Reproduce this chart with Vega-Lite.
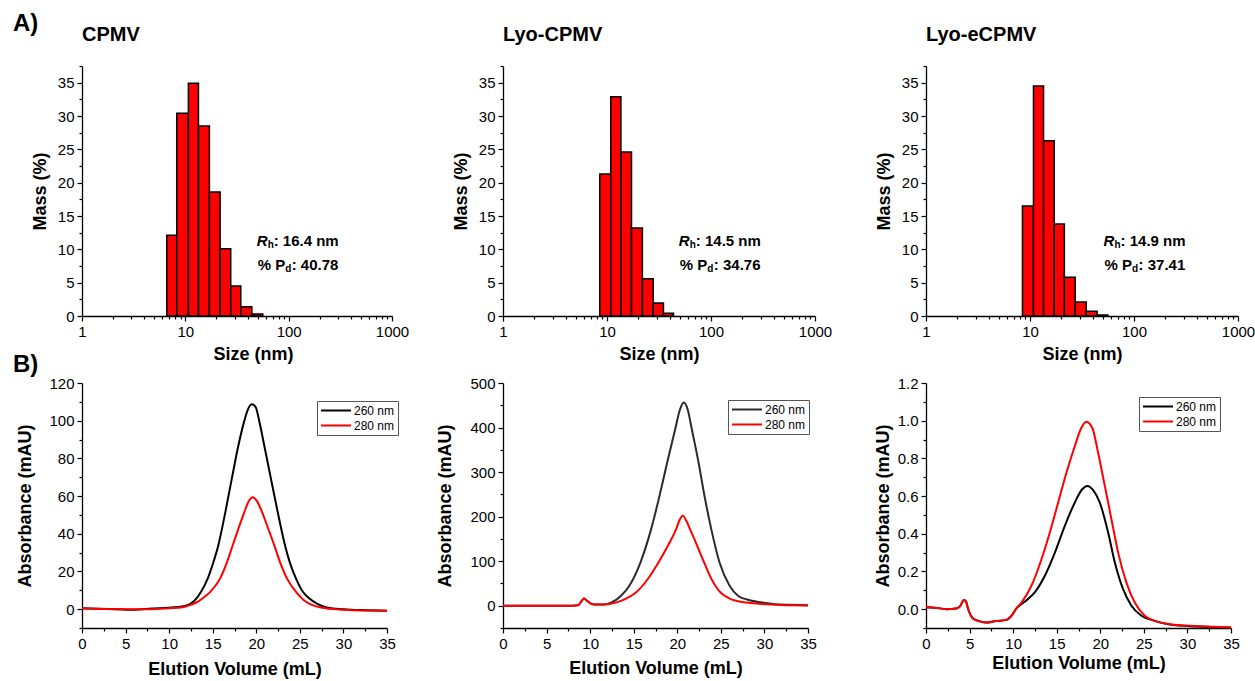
{
"$schema": "https://vega.github.io/schema/vega-lite/v6.json",
"background": "white",
"padding": {"left": 12, "top": 11, "right": 2, "bottom": 2},
"config": {
  "font": "Liberation Sans",
  "view": {"stroke": null},
  "axis": {"domainColor": "black", "domainWidth": 1.3, "tickColor": "black", "tickWidth": 1.2, "labelColor": "black", "titleColor": "black", "labelFont": "Liberation Sans", "titleFont": "Liberation Sans", "labelFontSize": 15, "titleFontSize": 18, "titleFontWeight": "bold", "grid": false, "labelOverlap": false, "labelFlush": false, "labelPadding": 3},
  "legend": {"labelFont": "Liberation Sans", "labelFontSize": 12, "labelColor": "black"}
},
"columns": 3,
"bounds": "flush",
"spacing": {"row": 67, "column": 111},
"resolve": {"scale": {"x": "independent", "y": "independent", "color": "independent"}, "legend": {"color": "independent"}},
"concat": [
  {
    "width": 310, "height": 250,
    "title": {"text": "CPMV", "anchor": "start", "frame": "group", "fontSize": 20, "fontWeight": "bold", "color": "black", "offset": -2, "baseline": "alphabetic"},
    "encoding": {
      "x": {"field": "x", "type": "quantitative", "scale": {"type": "log", "domain": [1, 1000], "nice": false}, "axis": {"title": "Size (nm)", "titlePadding": 6, "titleX": 171, "values": [1,2,3,4,5,6,7,8,9,10,20,30,40,50,60,70,80,90,100,200,300,400,500,600,700,800,900,1000], "labelExpr": "indexof([1,10,100,1000], datum.value) >= 0 ? format(datum.value, 'd') : ''", "tickSize": {"condition": {"test": "indexof([1,10,100,1000], datum.value) >= 0", "value": 5}, "value": 3}}},
      "y": {"field": "y", "type": "quantitative", "scale": {"domain": [0, 37.5], "nice": false}, "axis": {"title": "Mass (%)", "titlePadding": 8, "values": [0,2.5,5,7.5,10,12.5,15,17.5,20,22.5,25,27.5,30,32.5,35,37.5], "labelExpr": "datum.value % 5 == 0 ? format(datum.value, 'd') : ''", "tickSize": {"condition": {"test": "datum.value % 5 == 0", "value": 5}, "value": 3}}}
    },
    "layer": [
      {"data": {"values": [
        {"x": 6.61, "x2": 8.26, "y": 12.1}, {"x": 8.26, "x2": 10.7, "y": 30.4}, {"x": 10.7, "x2": 13.4, "y": 34.9},
        {"x": 13.4, "x2": 17.1, "y": 28.5}, {"x": 17.1, "x2": 21.7, "y": 18.6}, {"x": 21.7, "x2": 27.5, "y": 10.1},
        {"x": 27.5, "x2": 34.4, "y": 4.5}, {"x": 34.4, "x2": 44, "y": 1.4}, {"x": 44, "x2": 56.2, "y": 0.3}]},
       "mark": {"type": "rect", "fill": "#ff0000", "stroke": "black", "strokeWidth": 1.5},
       "encoding": {"x2": {"field": "x2"}, "y2": {"datum": 0}}},
      {"data": {"values": [{"x": 49, "y": 11.2, "t": "R"}]}, "mark": {"type": "text", "fontSize": 15, "fontWeight": "bold", "fontStyle": "italic", "align": "left", "baseline": "middle", "color": "black"}, "encoding": {"text": {"field": "t"}}},
      {"data": {"values": [{"x": 49, "y": 11.2, "t": "h"}]}, "mark": {"type": "text", "fontSize": 10, "fontWeight": "bold", "align": "left", "baseline": "middle", "dx": 11, "dy": 4, "color": "black"}, "encoding": {"text": {"field": "t"}}},
      {"data": {"values": [{"x": 49, "y": 11.2, "t": ": 16.4 nm"}]}, "mark": {"type": "text", "fontSize": 15, "fontWeight": "bold", "align": "left", "baseline": "middle", "dx": 17, "color": "black"}, "encoding": {"text": {"field": "t"}}},
      {"data": {"values": [{"x": 49, "y": 7.6, "t": "% P"}]}, "mark": {"type": "text", "fontSize": 15, "fontWeight": "bold", "align": "left", "baseline": "middle", "dx": 1, "color": "black"}, "encoding": {"text": {"field": "t"}}},
      {"data": {"values": [{"x": 49, "y": 7.6, "t": "d"}]}, "mark": {"type": "text", "fontSize": 10, "fontWeight": "bold", "align": "left", "baseline": "middle", "dx": 28.5, "dy": 4, "color": "black"}, "encoding": {"text": {"field": "t"}}},
      {"data": {"values": [{"x": 49, "y": 7.6, "t": ": 40.78"}]}, "mark": {"type": "text", "fontSize": 15, "fontWeight": "bold", "align": "left", "baseline": "middle", "dx": 35, "color": "black"}, "encoding": {"text": {"field": "t"}}}
    ]
  },
  {
    "width": 312, "height": 250,
    "title": {"text": "Lyo-CPMV", "anchor": "start", "frame": "group", "fontSize": 20, "fontWeight": "bold", "color": "black", "offset": -2, "baseline": "alphabetic"},
    "encoding": {
      "x": {"field": "x", "type": "quantitative", "scale": {"type": "log", "domain": [1, 1000], "nice": false}, "axis": {"title": "Size (nm)", "titlePadding": 6, "values": [1,2,3,4,5,6,7,8,9,10,20,30,40,50,60,70,80,90,100,200,300,400,500,600,700,800,900,1000], "labelExpr": "indexof([1,10,100,1000], datum.value) >= 0 ? format(datum.value, 'd') : ''", "tickSize": {"condition": {"test": "indexof([1,10,100,1000], datum.value) >= 0", "value": 5}, "value": 3}}},
      "y": {"field": "y", "type": "quantitative", "scale": {"domain": [0, 37.5], "nice": false}, "axis": {"title": "Mass (%)", "titlePadding": 8, "values": [0,2.5,5,7.5,10,12.5,15,17.5,20,22.5,25,27.5,30,32.5,35,37.5], "labelExpr": "datum.value % 5 == 0 ? format(datum.value, 'd') : ''", "tickSize": {"condition": {"test": "datum.value % 5 == 0", "value": 5}, "value": 3}}}
    },
    "layer": [
      {"data": {"values": [
        {"x": 8.52, "x2": 10.87, "y": 21.3}, {"x": 10.87, "x2": 13.6, "y": 32.9}, {"x": 13.6, "x2": 17.2, "y": 24.6},
        {"x": 17.2, "x2": 21.9, "y": 13.2}, {"x": 21.9, "x2": 27.8, "y": 5.6}, {"x": 27.8, "x2": 34.9, "y": 1.95},
        {"x": 34.9, "x2": 43.6, "y": 0.4}]},
       "mark": {"type": "rect", "fill": "#ff0000", "stroke": "black", "strokeWidth": 1.5},
       "encoding": {"x2": {"field": "x2"}, "y2": {"datum": 0}}},
      {"data": {"values": [{"x": 49, "y": 11.2, "t": "R"}]}, "mark": {"type": "text", "fontSize": 15, "fontWeight": "bold", "fontStyle": "italic", "align": "left", "baseline": "middle", "color": "black"}, "encoding": {"text": {"field": "t"}}},
      {"data": {"values": [{"x": 49, "y": 11.2, "t": "h"}]}, "mark": {"type": "text", "fontSize": 10, "fontWeight": "bold", "align": "left", "baseline": "middle", "dx": 11, "dy": 4, "color": "black"}, "encoding": {"text": {"field": "t"}}},
      {"data": {"values": [{"x": 49, "y": 11.2, "t": ": 14.5 nm"}]}, "mark": {"type": "text", "fontSize": 15, "fontWeight": "bold", "align": "left", "baseline": "middle", "dx": 17, "color": "black"}, "encoding": {"text": {"field": "t"}}},
      {"data": {"values": [{"x": 49, "y": 7.6, "t": "% P"}]}, "mark": {"type": "text", "fontSize": 15, "fontWeight": "bold", "align": "left", "baseline": "middle", "dx": 1, "color": "black"}, "encoding": {"text": {"field": "t"}}},
      {"data": {"values": [{"x": 49, "y": 7.6, "t": "d"}]}, "mark": {"type": "text", "fontSize": 10, "fontWeight": "bold", "align": "left", "baseline": "middle", "dx": 28.5, "dy": 4, "color": "black"}, "encoding": {"text": {"field": "t"}}},
      {"data": {"values": [{"x": 49, "y": 7.6, "t": ": 34.76"}]}, "mark": {"type": "text", "fontSize": 15, "fontWeight": "bold", "align": "left", "baseline": "middle", "dx": 35, "color": "black"}, "encoding": {"text": {"field": "t"}}}
    ]
  },
  {
    "width": 312, "height": 250,
    "title": {"text": "Lyo-eCPMV", "anchor": "start", "frame": "group", "fontSize": 20, "fontWeight": "bold", "color": "black", "offset": -2, "baseline": "alphabetic"},
    "encoding": {
      "x": {"field": "x", "type": "quantitative", "scale": {"type": "log", "domain": [1, 1000], "nice": false}, "axis": {"title": "Size (nm)", "titlePadding": 6, "values": [1,2,3,4,5,6,7,8,9,10,20,30,40,50,60,70,80,90,100,200,300,400,500,600,700,800,900,1000], "labelExpr": "indexof([1,10,100,1000], datum.value) >= 0 ? format(datum.value, 'd') : ''", "tickSize": {"condition": {"test": "indexof([1,10,100,1000], datum.value) >= 0", "value": 5}, "value": 3}}},
      "y": {"field": "y", "type": "quantitative", "scale": {"domain": [0, 37.5], "nice": false}, "axis": {"title": "Mass (%)", "titlePadding": 8, "values": [0,2.5,5,7.5,10,12.5,15,17.5,20,22.5,25,27.5,30,32.5,35,37.5], "labelExpr": "datum.value % 5 == 0 ? format(datum.value, 'd') : ''", "tickSize": {"condition": {"test": "datum.value % 5 == 0", "value": 5}, "value": 3}}}
    },
    "layer": [
      {"data": {"values": [
        {"x": 8.46, "x2": 10.8, "y": 16.5}, {"x": 10.8, "x2": 13.5, "y": 34.5}, {"x": 13.5, "x2": 17.1, "y": 26.3},
        {"x": 17.1, "x2": 21.4, "y": 13.8}, {"x": 21.4, "x2": 27.2, "y": 5.8}, {"x": 27.2, "x2": 34.7, "y": 2.1},
        {"x": 34.7, "x2": 44.2, "y": 0.7}, {"x": 44.2, "x2": 56, "y": 0.15}]},
       "mark": {"type": "rect", "fill": "#ff0000", "stroke": "black", "strokeWidth": 1.5},
       "encoding": {"x2": {"field": "x2"}, "y2": {"datum": 0}}},
      {"data": {"values": [{"x": 51, "y": 11.2, "t": "R"}]}, "mark": {"type": "text", "fontSize": 15, "fontWeight": "bold", "fontStyle": "italic", "align": "left", "baseline": "middle", "color": "black"}, "encoding": {"text": {"field": "t"}}},
      {"data": {"values": [{"x": 51, "y": 11.2, "t": "h"}]}, "mark": {"type": "text", "fontSize": 10, "fontWeight": "bold", "align": "left", "baseline": "middle", "dx": 11, "dy": 4, "color": "black"}, "encoding": {"text": {"field": "t"}}},
      {"data": {"values": [{"x": 51, "y": 11.2, "t": ": 14.9 nm"}]}, "mark": {"type": "text", "fontSize": 15, "fontWeight": "bold", "align": "left", "baseline": "middle", "dx": 17, "color": "black"}, "encoding": {"text": {"field": "t"}}},
      {"data": {"values": [{"x": 51, "y": 7.6, "t": "% P"}]}, "mark": {"type": "text", "fontSize": 15, "fontWeight": "bold", "align": "left", "baseline": "middle", "dx": 1, "color": "black"}, "encoding": {"text": {"field": "t"}}},
      {"data": {"values": [{"x": 51, "y": 7.6, "t": "d"}]}, "mark": {"type": "text", "fontSize": 10, "fontWeight": "bold", "align": "left", "baseline": "middle", "dx": 28.5, "dy": 4, "color": "black"}, "encoding": {"text": {"field": "t"}}},
      {"data": {"values": [{"x": 51, "y": 7.6, "t": ": 37.41"}]}, "mark": {"type": "text", "fontSize": 15, "fontWeight": "bold", "align": "left", "baseline": "middle", "dx": 35, "color": "black"}, "encoding": {"text": {"field": "t"}}}
    ]
  },
  {
    "width": 305, "height": 245,
    "encoding": {
      "x": {"field": "v", "type": "quantitative", "scale": {"domain": [0, 35], "nice": false}, "axis": {"title": "Elution Volume (mL)", "titlePadding": 9, "values": [0,2.5,5,7.5,10,12.5,15,17.5,20,22.5,25,27.5,30,32.5,35], "labelExpr": "datum.value % 5 == 0 ? format(datum.value, 'd') : ''", "tickSize": {"condition": {"test": "datum.value % 5 == 0", "value": 5}, "value": 3}}},
      "y": {"field": "a", "type": "quantitative", "scale": {"domain": [-10, 120], "nice": false, "zero": false}, "axis": {"title": "Absorbance (mAU)", "titlePadding": 14, "values": [-10,0,10,20,30,40,50,60,70,80,90,100,110,120], "labelExpr": "datum.value % 20 == 0 ? format(datum.value, 'd') : ''", "tickSize": {"condition": {"test": "datum.value % 20 == 0", "value": 5}, "value": 3}}}
    },
    "layer": [
      {"data": {"values": [
        {"v": 0, "a": 0.5, "wl": "260 nm"}, {"v": 2, "a": 0.2, "wl": "260 nm"}, {"v": 4, "a": 0, "wl": "260 nm"}, {"v": 6, "a": -0.3, "wl": "260 nm"}, {"v": 8, "a": 0.3, "wl": "260 nm"}, {"v": 10, "a": 0.8, "wl": "260 nm"}, {"v": 11, "a": 1.2, "wl": "260 nm"}, {"v": 12, "a": 2, "wl": "260 nm"}, {"v": 12.9, "a": 4.5, "wl": "260 nm"}, {"v": 13.7, "a": 9.5, "wl": "260 nm"}, {"v": 14.42, "a": 16.2, "wl": "260 nm"}, {"v": 15.05, "a": 24.5, "wl": "260 nm"}, {"v": 15.64, "a": 33.8, "wl": "260 nm"}, {"v": 16.45, "a": 51.5, "wl": "260 nm"}, {"v": 17.18, "a": 69, "wl": "260 nm"}, {"v": 17.94, "a": 86.7, "wl": "260 nm"}, {"v": 18.6, "a": 99.5, "wl": "260 nm"}, {"v": 19.0, "a": 105.5, "wl": "260 nm"}, {"v": 19.47, "a": 108.7, "wl": "260 nm"}, {"v": 19.9, "a": 107.5, "wl": "260 nm"}, {"v": 20.4, "a": 98.5, "wl": "260 nm"}, {"v": 20.92, "a": 86.7, "wl": "260 nm"}, {"v": 21.69, "a": 69, "wl": "260 nm"}, {"v": 22.46, "a": 51.5, "wl": "260 nm"}, {"v": 23.3, "a": 33.8, "wl": "260 nm"}, {"v": 23.9, "a": 24, "wl": "260 nm"}, {"v": 24.56, "a": 16.2, "wl": "260 nm"}, {"v": 25.3, "a": 9.5, "wl": "260 nm"}, {"v": 26.1, "a": 5.6, "wl": "260 nm"}, {"v": 27, "a": 2.8, "wl": "260 nm"}, {"v": 28.2, "a": 0.8, "wl": "260 nm"}, {"v": 30, "a": 0, "wl": "260 nm"}, {"v": 32, "a": -0.5, "wl": "260 nm"}, {"v": 35, "a": -0.8, "wl": "260 nm"},
        {"v": 0, "a": 0.3, "wl": "280 nm"}, {"v": 4, "a": 0, "wl": "280 nm"}, {"v": 8, "a": 0, "wl": "280 nm"}, {"v": 10, "a": 0.5, "wl": "280 nm"}, {"v": 11.4, "a": 0.9, "wl": "280 nm"}, {"v": 12.4, "a": 2.2, "wl": "280 nm"}, {"v": 13.27, "a": 3.9, "wl": "280 nm"}, {"v": 14, "a": 6.3, "wl": "280 nm"}, {"v": 14.72, "a": 9.2, "wl": "280 nm"}, {"v": 15.84, "a": 16.2, "wl": "280 nm"}, {"v": 16.64, "a": 25, "wl": "280 nm"}, {"v": 17.29, "a": 33.8, "wl": "280 nm"}, {"v": 17.94, "a": 42.6, "wl": "280 nm"}, {"v": 18.63, "a": 51.5, "wl": "280 nm"}, {"v": 19.1, "a": 57, "wl": "280 nm"}, {"v": 19.59, "a": 59.4, "wl": "280 nm"}, {"v": 20.1, "a": 57.2, "wl": "280 nm"}, {"v": 20.66, "a": 51.5, "wl": "280 nm"}, {"v": 21.38, "a": 42.6, "wl": "280 nm"}, {"v": 22.07, "a": 33.8, "wl": "280 nm"}, {"v": 22.72, "a": 25, "wl": "280 nm"}, {"v": 23.53, "a": 16.2, "wl": "280 nm"}, {"v": 24.56, "a": 9.2, "wl": "280 nm"}, {"v": 25.7, "a": 3.9, "wl": "280 nm"}, {"v": 26.5, "a": 2, "wl": "280 nm"}, {"v": 27.4, "a": 0.9, "wl": "280 nm"}, {"v": 30, "a": -0.3, "wl": "280 nm"}, {"v": 32, "a": -0.7, "wl": "280 nm"}, {"v": 35, "a": -0.8, "wl": "280 nm"}]},
       "mark": {"type": "line", "strokeWidth": 2, "interpolate": "monotone"},
       "encoding": {"color": {"field": "wl", "type": "nominal", "scale": {"domain": ["260 nm", "280 nm"], "range": ["#000000", "#ff0000"]}, "legend": {"title": null, "orient": "none", "legendX": 235, "legendY": 18, "symbolType": "stroke", "symbolSize": 900, "symbolStrokeWidth": 2, "strokeColor": "#555555", "fillColor": "white", "padding": 3, "rowPadding": 2, "labelOffset": 2, "clipHeight": 13}}}},
      {"data": {"values": [{"v": -7.92, "a": 125.8, "t": "B)"}, {"v": -7.92, "a": 306.9, "t": "A)"}]}, "mark": {"type": "text", "fontSize": 24, "fontWeight": "bold", "align": "left", "baseline": "alphabetic", "color": "black"}, "encoding": {"text": {"field": "t"}}}
    ]
  },
  {
    "width": 305, "height": 245,
    "encoding": {
      "x": {"field": "v", "type": "quantitative", "scale": {"domain": [0, 35], "nice": false}, "axis": {"title": "Elution Volume (mL)", "titlePadding": 8, "values": [0,2.5,5,7.5,10,12.5,15,17.5,20,22.5,25,27.5,30,32.5,35], "labelExpr": "datum.value % 5 == 0 ? format(datum.value, 'd') : ''", "tickSize": {"condition": {"test": "datum.value % 5 == 0", "value": 5}, "value": 3}}},
      "y": {"field": "a", "type": "quantitative", "scale": {"domain": [-50, 500], "nice": false, "zero": false}, "axis": {"title": "Absorbance (mAU)", "titlePadding": 15, "values": [-50,0,50,100,150,200,250,300,350,400,450,500], "labelExpr": "datum.value % 100 == 0 ? format(datum.value, 'd') : ''", "tickSize": {"condition": {"test": "datum.value % 100 == 0", "value": 5}, "value": 3}}}
    },
    "layer": [
      {"data": {"values": [
        {"v": 0, "a": 0, "wl": "260 nm"}, {"v": 5, "a": 0, "wl": "260 nm"}, {"v": 8, "a": 0, "wl": "260 nm"}, {"v": 8.6, "a": 1, "wl": "260 nm"}, {"v": 9.0, "a": 10, "wl": "260 nm"}, {"v": 9.3, "a": 16, "wl": "260 nm"}, {"v": 9.7, "a": 10, "wl": "260 nm"}, {"v": 10.2, "a": 4, "wl": "260 nm"}, {"v": 10.8, "a": 2.5, "wl": "260 nm"}, {"v": 11.5, "a": 2.5, "wl": "260 nm"}, {"v": 12.4, "a": 7, "wl": "260 nm"}, {"v": 13.55, "a": 22.4, "wl": "260 nm"}, {"v": 14.5, "a": 45, "wl": "260 nm"}, {"v": 15.77, "a": 97, "wl": "260 nm"}, {"v": 17.0, "a": 172, "wl": "260 nm"}, {"v": 17.96, "a": 246.6, "wl": "260 nm"}, {"v": 18.84, "a": 321.5, "wl": "260 nm"}, {"v": 19.76, "a": 396, "wl": "260 nm"}, {"v": 20.3, "a": 440, "wl": "260 nm"}, {"v": 20.75, "a": 456, "wl": "260 nm"}, {"v": 21.2, "a": 440, "wl": "260 nm"}, {"v": 21.67, "a": 396, "wl": "260 nm"}, {"v": 22.44, "a": 321.5, "wl": "260 nm"}, {"v": 23.12, "a": 246.6, "wl": "260 nm"}, {"v": 23.9, "a": 172, "wl": "260 nm"}, {"v": 24.85, "a": 97, "wl": "260 nm"}, {"v": 26.0, "a": 45, "wl": "260 nm"}, {"v": 27.0, "a": 22, "wl": "260 nm"}, {"v": 28, "a": 14, "wl": "260 nm"}, {"v": 29.6, "a": 7.6, "wl": "260 nm"}, {"v": 31, "a": 4, "wl": "260 nm"}, {"v": 33, "a": 2, "wl": "260 nm"}, {"v": 35, "a": 1, "wl": "260 nm"},
        {"v": 0, "a": 0, "wl": "280 nm"}, {"v": 5, "a": 0, "wl": "280 nm"}, {"v": 8, "a": 0, "wl": "280 nm"}, {"v": 8.6, "a": 1, "wl": "280 nm"}, {"v": 9.0, "a": 10, "wl": "280 nm"}, {"v": 9.3, "a": 16, "wl": "280 nm"}, {"v": 9.7, "a": 10, "wl": "280 nm"}, {"v": 10.2, "a": 4, "wl": "280 nm"}, {"v": 10.8, "a": 2.5, "wl": "280 nm"}, {"v": 11.5, "a": 2.5, "wl": "280 nm"}, {"v": 12.2, "a": 4, "wl": "280 nm"}, {"v": 13.55, "a": 11, "wl": "280 nm"}, {"v": 15.28, "a": 30, "wl": "280 nm"}, {"v": 16.62, "a": 60, "wl": "280 nm"}, {"v": 17.84, "a": 97, "wl": "280 nm"}, {"v": 18.92, "a": 134.5, "wl": "280 nm"}, {"v": 19.87, "a": 172, "wl": "280 nm"}, {"v": 20.25, "a": 192, "wl": "280 nm"}, {"v": 20.64, "a": 201.8, "wl": "280 nm"}, {"v": 21.05, "a": 190, "wl": "280 nm"}, {"v": 21.5, "a": 170, "wl": "280 nm"}, {"v": 22.0, "a": 148, "wl": "280 nm"}, {"v": 22.5, "a": 124, "wl": "280 nm"}, {"v": 23.0, "a": 101, "wl": "280 nm"}, {"v": 23.5, "a": 78, "wl": "280 nm"}, {"v": 24.0, "a": 57, "wl": "280 nm"}, {"v": 24.5, "a": 41, "wl": "280 nm"}, {"v": 25.0, "a": 29, "wl": "280 nm"}, {"v": 26.0, "a": 16, "wl": "280 nm"}, {"v": 27.0, "a": 10, "wl": "280 nm"}, {"v": 29.6, "a": 4, "wl": "280 nm"}, {"v": 32, "a": 1.5, "wl": "280 nm"}, {"v": 35, "a": 0.5, "wl": "280 nm"}]},
       "mark": {"type": "line", "strokeWidth": 2, "interpolate": "monotone"},
       "encoding": {"color": {"field": "wl", "type": "nominal", "scale": {"domain": ["260 nm", "280 nm"], "range": ["#2b2b2b", "#ff0000"]}, "legend": {"title": null, "orient": "none", "legendX": 225, "legendY": 17, "symbolType": "stroke", "symbolSize": 900, "symbolStrokeWidth": 2, "strokeColor": "#555555", "fillColor": "white", "padding": 3, "rowPadding": 2, "labelOffset": 2, "clipHeight": 13}}}}
    ]
  },
  {
    "width": 305, "height": 245,
    "encoding": {
      "x": {"field": "v", "type": "quantitative", "scale": {"domain": [0, 35], "nice": false}, "axis": {"title": "Elution Volume (mL)", "titlePadding": 3, "values": [0,2.5,5,7.5,10,12.5,15,17.5,20,22.5,25,27.5,30,32.5,35], "labelExpr": "datum.value % 5 == 0 ? format(datum.value, 'd') : ''", "tickSize": {"condition": {"test": "datum.value % 5 == 0", "value": 5}, "value": 3}}},
      "y": {"field": "a", "type": "quantitative", "scale": {"domain": [-0.1, 1.2], "nice": false, "zero": false}, "axis": {"title": "Absorbance (mAU)", "titlePadding": 5, "values": [-0.1,0,0.1,0.2,0.3,0.4,0.5,0.6,0.7,0.8,0.9,1.0,1.1,1.2], "labelExpr": "abs(datum.value*5 - round(datum.value*5)) < 0.000001 ? format(datum.value, '.1f') : ''", "tickSize": {"condition": {"test": "abs(datum.value*5 - round(datum.value*5)) < 0.000001", "value": 5}, "value": 3}}}
    },
    "layer": [
      {"data": {"values": [
        {"v": 0, "a": 0.01, "wl": "260 nm"}, {"v": 1, "a": 0.008, "wl": "260 nm"}, {"v": 2.33, "a": 0, "wl": "260 nm"}, {"v": 3.47, "a": 0.003, "wl": "260 nm"}, {"v": 3.9, "a": 0.015, "wl": "260 nm"}, {"v": 4.35, "a": 0.049, "wl": "260 nm"}, {"v": 4.6, "a": 0.04, "wl": "260 nm"}, {"v": 4.81, "a": 0.005, "wl": "260 nm"}, {"v": 5.1, "a": -0.03, "wl": "260 nm"}, {"v": 5.39, "a": -0.049, "wl": "260 nm"}, {"v": 6.2, "a": -0.065, "wl": "260 nm"}, {"v": 6.91, "a": -0.071, "wl": "260 nm"}, {"v": 8, "a": -0.063, "wl": "260 nm"}, {"v": 9.2, "a": -0.057, "wl": "260 nm"}, {"v": 9.81, "a": -0.035, "wl": "260 nm"}, {"v": 10.4, "a": 0.005, "wl": "260 nm"}, {"v": 11.35, "a": 0.04, "wl": "260 nm"}, {"v": 12.5, "a": 0.09, "wl": "260 nm"}, {"v": 13.64, "a": 0.177, "wl": "260 nm"}, {"v": 14.79, "a": 0.3, "wl": "260 nm"}, {"v": 15.93, "a": 0.442, "wl": "260 nm"}, {"v": 17.08, "a": 0.566, "wl": "260 nm"}, {"v": 17.9, "a": 0.635, "wl": "260 nm"}, {"v": 18.53, "a": 0.654, "wl": "260 nm"}, {"v": 19.2, "a": 0.63, "wl": "260 nm"}, {"v": 19.94, "a": 0.566, "wl": "260 nm"}, {"v": 20.9, "a": 0.407, "wl": "260 nm"}, {"v": 21.67, "a": 0.248, "wl": "260 nm"}, {"v": 22.62, "a": 0.106, "wl": "260 nm"}, {"v": 23.57, "a": 0.018, "wl": "260 nm"}, {"v": 24.72, "a": -0.035, "wl": "260 nm"}, {"v": 26.25, "a": -0.062, "wl": "260 nm"}, {"v": 28, "a": -0.082, "wl": "260 nm"}, {"v": 31, "a": -0.092, "wl": "260 nm"}, {"v": 35, "a": -0.098, "wl": "260 nm"},
        {"v": 0, "a": 0.01, "wl": "280 nm"}, {"v": 1, "a": 0.008, "wl": "280 nm"}, {"v": 2.33, "a": 0, "wl": "280 nm"}, {"v": 3.47, "a": 0.003, "wl": "280 nm"}, {"v": 3.9, "a": 0.015, "wl": "280 nm"}, {"v": 4.35, "a": 0.049, "wl": "280 nm"}, {"v": 4.6, "a": 0.04, "wl": "280 nm"}, {"v": 4.81, "a": 0.005, "wl": "280 nm"}, {"v": 5.1, "a": -0.03, "wl": "280 nm"}, {"v": 5.39, "a": -0.049, "wl": "280 nm"}, {"v": 6.2, "a": -0.065, "wl": "280 nm"}, {"v": 6.91, "a": -0.071, "wl": "280 nm"}, {"v": 8, "a": -0.063, "wl": "280 nm"}, {"v": 9.2, "a": -0.057, "wl": "280 nm"}, {"v": 9.81, "a": -0.035, "wl": "280 nm"}, {"v": 10.4, "a": 0.005, "wl": "280 nm"}, {"v": 10.96, "a": 0.035, "wl": "280 nm"}, {"v": 12.1, "a": 0.124, "wl": "280 nm"}, {"v": 13.25, "a": 0.265, "wl": "280 nm"}, {"v": 14.21, "a": 0.407, "wl": "280 nm"}, {"v": 15.17, "a": 0.566, "wl": "280 nm"}, {"v": 16.12, "a": 0.725, "wl": "280 nm"}, {"v": 17.08, "a": 0.866, "wl": "280 nm"}, {"v": 17.8, "a": 0.96, "wl": "280 nm"}, {"v": 18.41, "a": 0.995, "wl": "280 nm"}, {"v": 19.1, "a": 0.96, "wl": "280 nm"}, {"v": 19.75, "a": 0.83, "wl": "280 nm"}, {"v": 20.52, "a": 0.654, "wl": "280 nm"}, {"v": 21.28, "a": 0.477, "wl": "280 nm"}, {"v": 22.05, "a": 0.3, "wl": "280 nm"}, {"v": 23.0, "a": 0.141, "wl": "280 nm"}, {"v": 23.96, "a": 0.035, "wl": "280 nm"}, {"v": 25.1, "a": -0.035, "wl": "280 nm"}, {"v": 26.25, "a": -0.062, "wl": "280 nm"}, {"v": 28, "a": -0.08, "wl": "280 nm"}, {"v": 31, "a": -0.09, "wl": "280 nm"}, {"v": 35, "a": -0.098, "wl": "280 nm"}]},
       "mark": {"type": "line", "strokeWidth": 2, "interpolate": "monotone"},
       "encoding": {"color": {"field": "wl", "type": "nominal", "scale": {"domain": ["260 nm", "280 nm"], "range": ["#000000", "#ff0000"]}, "legend": {"title": null, "orient": "none", "legendX": 213, "legendY": 14, "symbolType": "stroke", "symbolSize": 900, "symbolStrokeWidth": 2, "strokeColor": "#555555", "fillColor": "white", "padding": 3, "rowPadding": 2, "labelOffset": 2, "clipHeight": 13}}}}
    ]
  }
]
}
